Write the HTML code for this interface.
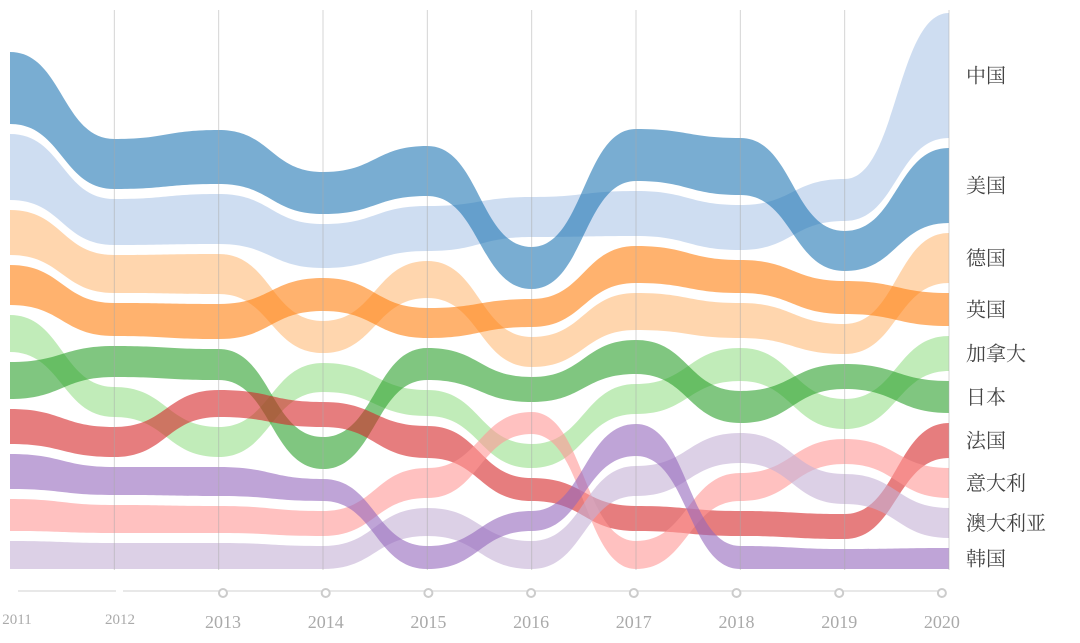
<!DOCTYPE html>
<html><head><meta charset="utf-8"><style>
body{margin:0;background:#fff;}
svg{display:block;font-family:"Liberation Serif","Noto Serif CJK SC",serif;}
</style></head><body>
<svg id="chart" width="1080" height="643" viewBox="0 0 1080 643"></svg>
<script>
const years = ['2011','2012','2013','2014','2015','2016','2017','2018','2019','2020'];
const countries = ['中国','美国','德国','英国','加拿大','日本','法国','意大利','澳大利亚','韩国'];
const colors = ['#aec7e8','#1f77b4','#ffbb78','#ff7f0e','#98df8a','#2ca02c','#d62728','#ff9896','#c5b0d5','#9467bd'];
const v_china = [66,46,50,44,45,40,45,45,42,125];
const v_usa = [72,50,54,42,50,42,52,57,40,75];
const v_germany = [45,38,40,32,37,30,37,35,30,50];
const v_uk = [40,33,35,33,30,28,37,33,33,33];
const v_canada = [37,30,30,29,26,24,30,33,30,35];
const v_japan = [37,31,31,32,32,25,34,32,25,32];
const v_france = [35,30,27,25,32,23,25,25,25,35];
const v_italy = [32,28,27,25,30,22,28,28,25,30];
const v_australia = [28,26,26,23,28,28,30,30,30,30];
const v_korea = [35,28,29,22,23,20,32,23,20,21];
const r_china = [2,2,2,2,2,1,2,2,1,1];
const r_usa = [1,1,1,1,1,2,1,1,2,2];
const r_germany = [3,3,3,4,3,4,4,4,4,3];
const r_uk = [4,4,4,3,4,3,3,3,3,4];
const r_canada = [5,6,7,5,6,7,6,5,6,5];
const r_japan = [6,5,5,7,5,5,5,6,5,6];
const r_france = [7,7,6,6,7,8,9,9,9,7];
const r_italy = [9,9,9,9,8,6,10,8,7,8];
const r_australia = [10,10,10,10,9,10,8,7,8,9];
const r_korea = [8,8,8,8,10,9,7,10,10,10];

const values=[v_china,v_usa,v_germany,v_uk,v_canada,v_japan,v_france,v_italy,v_australia,v_korea];
const ranks=[r_china,r_usa,r_germany,r_uk,r_canada,r_japan,r_france,r_italy,r_australia,r_korea];
const NS='http://www.w3.org/2000/svg';
const svg=document.getElementById('chart');
const X0=10,X1=949,BOTTOM=569,GAP=10;
const xs=i=>X0+i*(X1-X0)/(years.length-1);
const tops=countries.map(()=>[]),bots=countries.map(()=>[]);
years.forEach((y,yi)=>{
  const order=countries.map((c,ci)=>ci).sort((a,b)=>ranks[b][yi]-ranks[a][yi]);
  let cur=BOTTOM;
  order.forEach(ci=>{bots[ci][yi]=cur;tops[ci][yi]=cur-values[ci][yi];cur=tops[ci][yi]-GAP;});
});
function curve(arr,rev){
  let idx=arr.map((v,i)=>i);if(rev)idx.reverse();
  let d='';
  idx.forEach((i,k)=>{
    if(k===0){d+=(rev?'L':'M')+xs(i)+','+arr[i];return;}
    const p=idx[k-1],mx=(xs(p)+xs(i))/2;
    d+=' C'+mx+','+arr[p]+' '+mx+','+arr[i]+' '+xs(i)+','+arr[i];
  });
  return d;
}
countries.forEach((c,ci)=>{
  const p=document.createElementNS(NS,'path');
  p.setAttribute('d',curve(tops[ci],false)+' '+curve(bots[ci],true)+' Z');
  p.setAttribute('fill',colors[ci]);
  p.setAttribute('fill-opacity','0.6');
  
  
  svg.appendChild(p);
  const t=document.createElementNS(NS,'text');
  t.setAttribute('x',966);
  t.setAttribute('y',(tops[ci][9]+bots[ci][9])/2+7);
  t.setAttribute('font-size','20');
  t.setAttribute('fill','#444');
  t.textContent=c;
  
  
  svg.appendChild(t);
});
years.forEach((y,yi)=>{
  if(yi===0)return;
  const l=document.createElementNS(NS,'line');
  l.setAttribute('x1',xs(yi));l.setAttribute('x2',xs(yi));
  l.setAttribute('y1',10);l.setAttribute('y2',570);
  l.setAttribute('stroke','#aaa');l.setAttribute('stroke-opacity','0.5');l.setAttribute('stroke-width','1');
  
  
  svg.appendChild(l);
});
const ax=i=>223+(i-2)*102.7;
[[18,116],[123,942]].forEach(s=>{
  const l=document.createElementNS(NS,'line');
  l.setAttribute('x1',s[0]);l.setAttribute('x2',s[1]);l.setAttribute('y1',591);l.setAttribute('y2',591);
  l.setAttribute('stroke','#e0e0e0');l.setAttribute('stroke-width','1.5');
  
  
  svg.appendChild(l);
});
years.forEach((y,yi)=>{
  const t=document.createElementNS(NS,'text');
  if(yi<2){
    t.setAttribute('x',yi===0?17:120);t.setAttribute('y',624);t.setAttribute('font-size','15');
  }else{
    t.setAttribute('x',ax(yi));t.setAttribute('y',628);t.setAttribute('font-size','18');
    const c=document.createElementNS(NS,'circle');
    c.setAttribute('cx',ax(yi));c.setAttribute('cy',593);c.setAttribute('r',4);
    c.setAttribute('fill','#fff');c.setAttribute('stroke','#ccc');c.setAttribute('stroke-width','2');
    
    
    svg.appendChild(c);
  }
  t.setAttribute('text-anchor','middle');t.setAttribute('fill','#aaa');
  t.textContent=y;
  
  
  svg.appendChild(t);
});
</script>
</body></html>
